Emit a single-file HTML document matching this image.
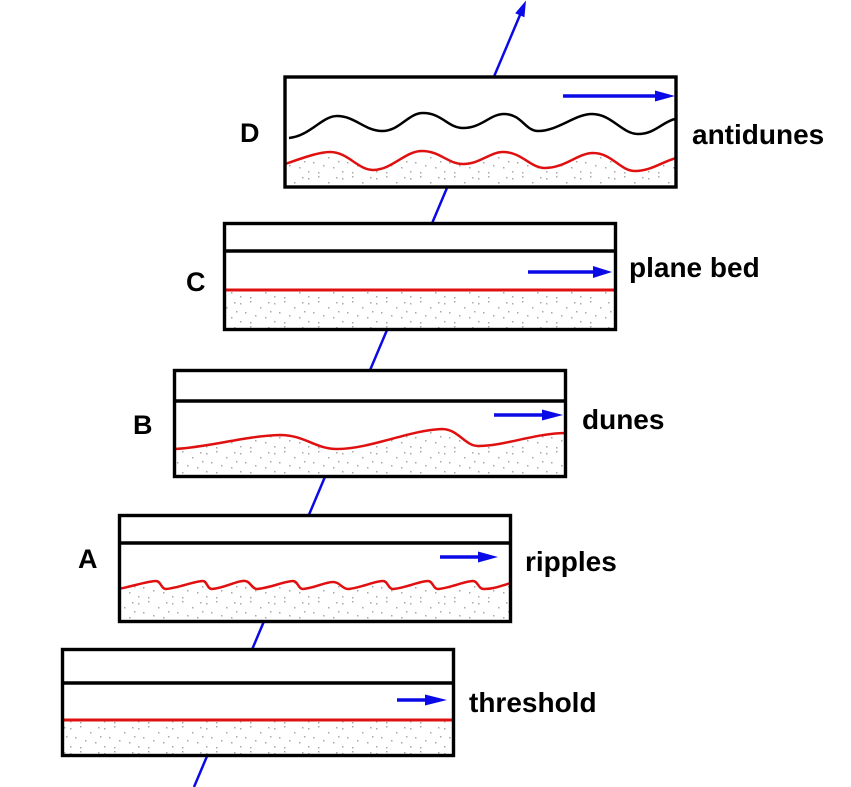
<!DOCTYPE html>
<html><head><meta charset="utf-8"><style>
html,body{margin:0;padding:0;background:#fff;}
svg{display:block;}
text{font-family:"Liberation Sans",Arial,sans-serif;font-weight:bold;fill:#000;}
</style></head><body>
<svg width="851" height="787" viewBox="0 0 851 787" xmlns="http://www.w3.org/2000/svg">
<defs>
<pattern id="sand" patternUnits="userSpaceOnUse" width="34" height="25">
<g fill="#a8a8a8">
<rect x="2" y="3" width="1.5" height="1.5"/>
<rect x="12" y="1" width="1.5" height="1.5"/>
<rect x="22" y="7" width="1.5" height="1.5"/>
<rect x="30" y="2" width="1.5" height="1.5"/>
<rect x="7" y="12" width="1.5" height="1.5"/>
<rect x="17" y="15" width="1.5" height="1.5"/>
<rect x="27" y="17" width="1.5" height="1.5"/>
<rect x="2" y="21" width="1.5" height="1.5"/>
<rect x="12" y="22" width="1.5" height="1.5"/>
<rect x="32" y="11" width="1.5" height="1.5"/>
</g>
</pattern>
</defs>

<!-- main inclined blue line -->
<line x1="520" y1="15" x2="194" y2="787" stroke="#0a0ae6" stroke-width="2.5"/>
<polygon points="526,0.5 524.4,17.2 515.2,13.3" fill="#0a0ae6"/>

<!-- D box -->
<rect x="285" y="77" width="391" height="110" fill="#fff"/>
<path d="M285,164 C300,159 318,152 330,152 C348,152 358,170 373,170 C392,170 405,151 422,151 C440,151 448,164 463,164 C480,164 490,152 503,152 C522,152 530,168 545,168 C565,168 578,153 593,153 C612,153 620,171 635,171 C652,171 665,160 677,158 L677,187 L285,187 Z" fill="url(#sand)"/>
<path d="M285,164 C300,159 318,152 330,152 C348,152 358,170 373,170 C392,170 405,151 422,151 C440,151 448,164 463,164 C480,164 490,152 503,152 C522,152 530,168 545,168 C565,168 578,153 593,153 C612,153 620,171 635,171 C652,171 665,160 677,158" fill="none" stroke="#e01010" stroke-width="2.5"/>
<path d="M289,138 C310,136 322,116 337,116 C355,116 365,131 382,131 C400,131 408,113 423,113 C442,113 448,128 463,128 C482,128 490,114 504,114 C522,114 525,131 538,131 C558,131 575,114 592,114 C612,114 622,134 638,134 C655,134 662,122 675,119" fill="none" stroke="#000" stroke-width="2.5"/>
<rect x="285" y="77" width="391" height="110" fill="none" stroke="#000" stroke-width="3.4"/>
<line x1="563" y1="96" x2="657" y2="96" stroke="#0a0ae6" stroke-width="3.5"/>
<polygon points="675,96 655,90.5 655,101.5" fill="#0a0ae6"/>
<text x="240" y="142" font-size="27">D</text>
<text x="692" y="144" font-size="28">antidunes</text>

<!-- C box -->
<rect x="224.5" y="223.5" width="391" height="106" fill="#fff"/>
<rect x="224.5" y="290" width="391" height="39.5" fill="url(#sand)"/>
<line x1="224.5" y1="290" x2="615.5" y2="290" stroke="#e01010" stroke-width="3"/>
<rect x="224.5" y="223.5" width="391" height="106" fill="none" stroke="#000" stroke-width="3.4"/>
<line x1="224.5" y1="251" x2="615.5" y2="251" stroke="#000" stroke-width="3.4"/>
<line x1="528" y1="272" x2="595" y2="272" stroke="#0a0ae6" stroke-width="3.5"/>
<polygon points="612,272 593,266 593,278" fill="#0a0ae6"/>
<text x="186" y="291" font-size="27">C</text>
<text x="629" y="277" font-size="28">plane bed</text>

<!-- B box -->
<rect x="174.5" y="370.5" width="391" height="106" fill="#fff"/>
<path d="M175,449 C210,447 245,436 280,435 C305,435 315,449 337,449 C370,449 410,430 442,429 C458,429 465,446 478,446 C505,446 535,433 567,433 L567,477 L175,477 Z" fill="url(#sand)"/>
<path d="M175,449 C210,447 245,436 280,435 C305,435 315,449 337,449 C370,449 410,430 442,429 C458,429 465,446 478,446 C505,446 535,433 567,433" fill="none" stroke="#e01010" stroke-width="2.5"/>
<rect x="174.5" y="370.5" width="391" height="106" fill="none" stroke="#000" stroke-width="3.4"/>
<line x1="174.5" y1="401" x2="565.5" y2="401" stroke="#000" stroke-width="3.4"/>
<line x1="494" y1="415" x2="545" y2="415" stroke="#0a0ae6" stroke-width="3.5"/>
<polygon points="563,415 542,409.5 542,420.5" fill="#0a0ae6"/>
<text x="133" y="434" font-size="27">B</text>
<text x="582" y="429" font-size="28">dunes</text>

<!-- A box -->
<rect x="119.5" y="515.5" width="391" height="106" fill="#fff"/>
<path d="M118,589 C130,587 148,581 156,581 C161,581 161,589 166,589 C178,588 195,581 203,581 C207,581 207,589 212,589 C225,588 238,580 245,581 C250,581 252,589 257,589 C270,588 285,581 293,581 C298,581 298,589 303,589 C315,588 325,582 333,582 C340,582 342,589 348,589 C360,588 375,581 383,581 C388,581 388,589 393,589 C405,588 420,581 428,581 C433,581 433,589 438,589 C450,588 465,581 473,581 C478,581 478,589 484,589 C495,589 503,585 511,583 L511,622 L119,622 Z" fill="url(#sand)"/>
<path d="M118,589 C130,587 148,581 156,581 C161,581 161,589 166,589 C178,588 195,581 203,581 C207,581 207,589 212,589 C225,588 238,580 245,581 C250,581 252,589 257,589 C270,588 285,581 293,581 C298,581 298,589 303,589 C315,588 325,582 333,582 C340,582 342,589 348,589 C360,588 375,581 383,581 C388,581 388,589 393,589 C405,588 420,581 428,581 C433,581 433,589 438,589 C450,588 465,581 473,581 C478,581 478,589 484,589 C495,589 503,585 511,583" fill="none" stroke="#e01010" stroke-width="2.5"/>
<rect x="119.5" y="515.5" width="391" height="106" fill="none" stroke="#000" stroke-width="3.4"/>
<line x1="119.5" y1="543" x2="510.5" y2="543" stroke="#000" stroke-width="3.4"/>
<line x1="440" y1="557" x2="480" y2="557" stroke="#0a0ae6" stroke-width="3.5"/>
<polygon points="498,557 478,551.5 478,562.5" fill="#0a0ae6"/>
<text x="78" y="568" font-size="27">A</text>
<text x="525" y="571" font-size="28">ripples</text>

<!-- threshold box -->
<rect x="62.5" y="649.5" width="391" height="106" fill="#fff"/>
<rect x="62.5" y="720" width="391" height="35.5" fill="url(#sand)"/>
<line x1="62.5" y1="720" x2="453.5" y2="720" stroke="#e01010" stroke-width="3"/>
<rect x="62.5" y="649.5" width="391" height="106" fill="none" stroke="#000" stroke-width="3.4"/>
<line x1="62.5" y1="683" x2="453.5" y2="683" stroke="#000" stroke-width="3.4"/>
<line x1="397" y1="700" x2="428" y2="700" stroke="#0a0ae6" stroke-width="3.5"/>
<polygon points="447,700 425,694.5 425,705.5" fill="#0a0ae6"/>
<text x="469" y="712" font-size="28">threshold</text>
</svg>
</body></html>
